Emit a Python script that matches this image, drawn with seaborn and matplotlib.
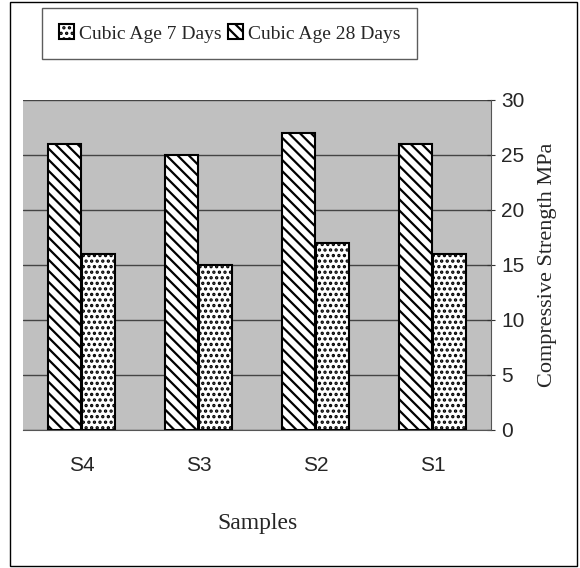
import matplotlib
matplotlib.use('Agg')
import matplotlib.pyplot as plt
import seaborn as sns
import pandas as pd
from matplotlib.patches import Rectangle

# dados
samples = ['S4', 'S3', 'S2', 'S1']
age_28 = [26, 25, 27, 26]
age_7 = [16, 15, 17, 16]
series_names = ['Cubic Age 28 Days', 'Cubic Age 7 Days']

df = pd.DataFrame({
    'sample': samples * 2,
    'serie': [series_names[0]] * 4 + [series_names[1]] * 4,
    'valor': age_28 + age_7,
})

sns.set_style('white')
plt.rcParams['hatch.linewidth'] = 1.6

fig = plt.figure(figsize=(5.8, 5.68), dpi=100)
ax = fig.add_axes([0.040, 0.243, 0.807, 0.581])

sns.barplot(data=df, x='sample', y='valor', hue='serie', order=samples,
            hue_order=series_names, width=0.58, gap=0.02, ax=ax,
            edgecolor='black', linewidth=1.5, saturation=1, legend=False)

hatches = {series_names[0]: '\\\\\\', series_names[1]: '...'}
for cont, nome in zip(ax.containers, series_names):
    for bar in cont:
        bar.set_facecolor('white')
        bar.set_hatch(hatches[nome])
        bar.set_zorder(3)

ax.set_facecolor('#c0c0c0')
ax.set_ylim(0, 30)
ax.set_yticks(range(0, 31, 5))
ax.grid(axis='y', color='#444444', linewidth=1)
ax.set_axisbelow(True)
ax.yaxis.tick_right()
ax.yaxis.set_label_position('right')
for s in ['top', 'left']:
    ax.spines[s].set_visible(False)
ax.spines['right'].set_color('#555555')
ax.spines['bottom'].set_color('#555555')

ax.set_xticks([-0.5, 0.5, 1.5, 2.5, 3.5], minor=True)
ax.set_xlim(-0.5, 3.5)
ax.tick_params(axis='x', which='major', length=0, labelsize=15, pad=19)
ax.tick_params(axis='x', which='minor', length=6, direction='out', color='#333333')
ax.tick_params(axis='y', length=6, direction='inout', labelsize=15, pad=4, color='#333333')
for lbl in ax.get_xticklabels() + ax.get_yticklabels():
    lbl.set_family('Liberation Sans')

ax.set_xlabel('Samples', family='Liberation Serif', fontsize=17, labelpad=27)
ax.set_ylabel('Compressive Strength MPa', family='Liberation Serif', fontsize=16,
              labelpad=10)

# legenda: 7 dias primeiro
hl = [ax.containers[1], ax.containers[0]]
ax.legend(hl, [series_names[1], series_names[0]], loc='upper left',
          bbox_to_anchor=(0.073, 0.986), borderaxespad=0,
          bbox_transform=fig.transFigure, ncol=2, frameon=True, fancybox=False,
          edgecolor='#333333', handlelength=0.8, handleheight=0.8, handletextpad=0.25,
          columnspacing=0.3, borderpad=0.85,
          prop={'family': 'Liberation Serif', 'size': 14})

fig.patches.append(Rectangle((0.017, 0.004), 0.978, 0.992, transform=fig.transFigure,
                             fill=False, edgecolor='black', linewidth=1))

fig.savefig('out.png', dpi=100)
